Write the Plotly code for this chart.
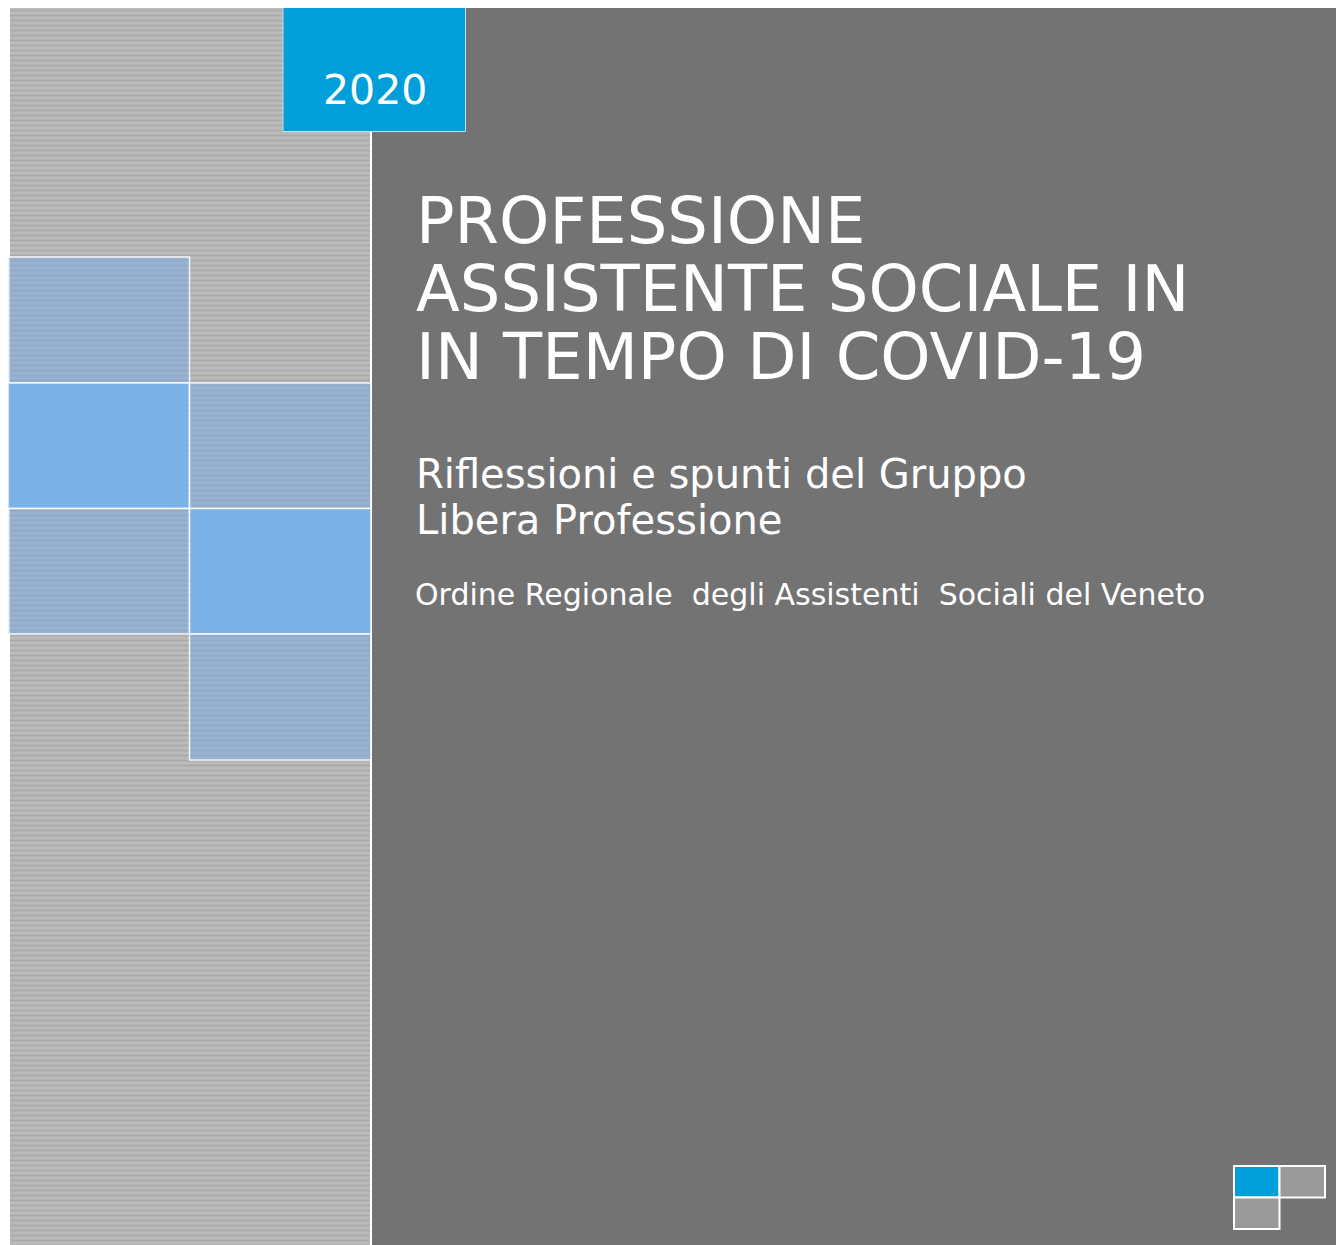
import plotly.graph_objects as go

# ---- content ----
year_label = "2020"
title_lines = ["PROFESSIONE", "ASSISTENTE SOCIALE IN", "IN TEMPO DI COVID-19"]
subtitle_lines = ["Riflessioni e spunti del Gruppo", "Libera Professione"]
org_line = "Ordine Regionale  degli Assistenti  Sociali del Veneto"
# tile grid of the decorative mosaic (rows top->bottom, cols left->right)
tile_grid = [["tint", "none"],
             ["solid", "tint"],
             ["tint", "solid"],
             ["none", "tint"]]
# corner logo cells (row, col, kind)
logo_cells = [(0, 0, "blue"), (0, 1, "grey"), (1, 0, "grey")]

W, H = 1344, 1245
OFF = 8  # default page body margin
DARK = "#737373"
BLUE = "#009FDA"

fig = go.Figure()

# patterned left column (bar with pattern fill)
fig.add_trace(go.Bar(
    x=[190], y=[H - 6], base=[6], width=[360],
    marker=dict(color="#B6B6B6", line=dict(width=0),
                pattern=dict(shape="-", size=5, solidity=0.35,
                             fgcolor="#999999", bgcolor="#BABABA")),
    hoverinfo="skip", showlegend=False))

shapes = []
# dark panel
shapes.append(dict(type="rect", xref="x", yref="y", x0=372, x1=W + 2, y0=6, y1=H + 2,
                   fillcolor=DARK, line=dict(width=0), layer="below"))

# mosaic tiles
col_edges = [8, 189.5, 371]
row_edges = [257, 383, 508.5, 634, 760]
for r, row in enumerate(tile_grid):
    for c, kind in enumerate(row):
        if kind == "none":
            continue
        fill = "rgba(120,178,236,0.93)" if kind == "solid" else "rgba(110,168,235,0.45)"
        shapes.append(dict(type="rect", xref="x", yref="y",
                           x0=col_edges[c], x1=col_edges[c + 1],
                           y0=row_edges[r], y1=row_edges[r + 1],
                           fillcolor=fill,
                           line=dict(color="rgba(255,255,255,0.85)", width=1.5),
                           layer="above"))

# year box
shapes.append(dict(type="rect", xref="x", yref="y", x0=283, x1=465.5, y0=6, y1=131.5,
                   fillcolor=BLUE, line=dict(color="#BFE3F3", width=1), layer="above"))

# corner logo
lx, ly, cw, ch = 1234, 1166, 45.5, 31.5
for r, c, kind in logo_cells:
    shapes.append(dict(type="rect", xref="x", yref="y",
                       x0=lx + c * cw, x1=lx + (c + 1) * cw,
                       y0=ly + r * ch, y1=ly + (r + 1) * ch,
                       fillcolor=BLUE if kind == "blue" else "#9A9A9A",
                       line=dict(color="white", width=2), layer="above"))

annotations = []
annotations.append(dict(x=375, y=90, xref="x", yref="y", text=year_label,
                        showarrow=False, xanchor="center", yanchor="middle",
                        font=dict(family="DejaVu Sans", size=41, color="white")))
for i, t in enumerate(title_lines):
    annotations.append(dict(x=414, y=221 + i * 68, xref="x", yref="y", text=t,
                            showarrow=False, xanchor="left", yanchor="middle",
                            font=dict(family="DejaVu Sans", size=64, color="white")))
for i, t in enumerate(subtitle_lines):
    annotations.append(dict(x=414, y=474 + i * 46, xref="x", yref="y", text=t,
                            showarrow=False, xanchor="left", yanchor="middle",
                            font=dict(family="DejaVu Sans", size=40, color="white")))
annotations.append(dict(x=413, y=594, xref="x", yref="y", text=org_line,
                        showarrow=False, xanchor="left", yanchor="middle",
                        font=dict(family="DejaVu Sans", size=30, color="white")))

fig.update_layout(
    width=W - OFF, height=H - OFF, margin=dict(l=0, r=0, t=0, b=0),
    paper_bgcolor="white", plot_bgcolor="white",
    xaxis=dict(range=[OFF, W], visible=False, fixedrange=True),
    yaxis=dict(range=[H, OFF], visible=False, fixedrange=True),
    shapes=shapes, annotations=annotations, showlegend=False,
)

fig.write_html("out.html", config={"displayModeBar": False})
